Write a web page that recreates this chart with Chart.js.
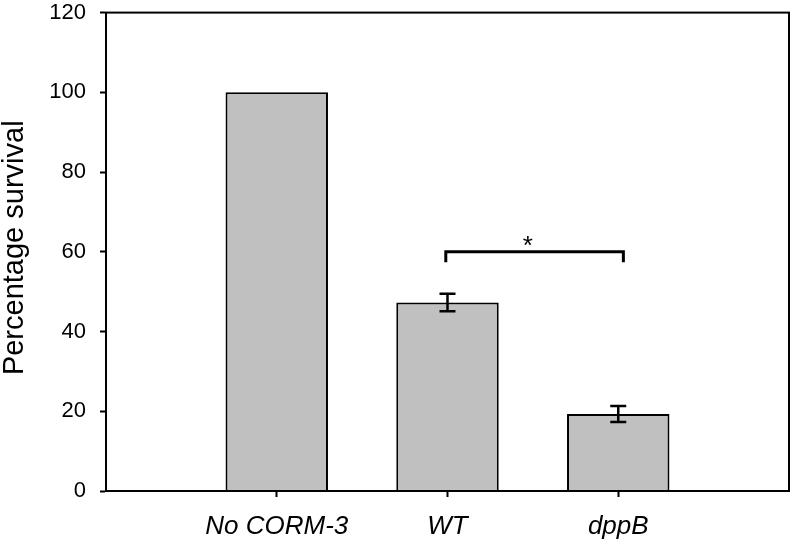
<!DOCTYPE html>
<html>
<head>
<meta charset="utf-8">
<script src="https://cdn.jsdelivr.net/npm/chart.js@4"></script>
<style>
  html, body { margin: 0; padding: 0; background: #fff; }
  #wrap { width: 792px; height: 542px; }
</style>
</head>
<body>
<div id="wrap"><canvas id="chart"></canvas></div>
<script>
// groups on the x axis (positions 1..3 on a 0..4 axis)
const groups = ["No CORM-3", "WT", "dppB"];
const groupPos = [1, 2, 3];
const survival = [100, 47.3, 19.3];
const survivalErr = [0, 2.2, 2.0];

// significance bracket between WT and dppB
const bracketFrom = 1.99;
const bracketTo = 3.03;
const bracketTop = 60;
const bracketFoot = 57.4;
const bracketMark = "*";
const bracketMarkX = 2.47;
const bracketMarkY = 62.6;

const yTicks = [0, 20, 40, 60, 80, 100, 120];

const extras = {
  id: 'extras',
  afterDatasetsDraw(chart) {
    const ctx = chart.ctx;
    const x = chart.scales.x, y = chart.scales.y;
    ctx.save();
    ctx.strokeStyle = '#000';
    ctx.lineWidth = 2.5;
    // error bars
    survival.forEach((v, i) => {
      const e = survivalErr[i];
      if (!e) return;
      const px = x.getPixelForValue(groupPos[i]);
      const hi = y.getPixelForValue(v + e), lo = y.getPixelForValue(v - e);
      ctx.beginPath();
      ctx.moveTo(px, hi); ctx.lineTo(px, lo);
      ctx.moveTo(px - 8, hi); ctx.lineTo(px + 8, hi);
      ctx.moveTo(px - 8, lo); ctx.lineTo(px + 8, lo);
      ctx.stroke();
    });
    // bracket
    const x1 = x.getPixelForValue(bracketFrom), x2 = x.getPixelForValue(bracketTo);
    const yt = y.getPixelForValue(bracketTop), yf = y.getPixelForValue(bracketFoot);
    ctx.lineWidth = 3;
    ctx.beginPath();
    ctx.moveTo(x1, yf); ctx.lineTo(x1, yt); ctx.lineTo(x2, yt); ctx.lineTo(x2, yf);
    ctx.stroke();
    ctx.fillStyle = '#000';
    ctx.font = '26px "Liberation Sans", Arial, sans-serif';
    ctx.textAlign = 'center';
    ctx.textBaseline = 'middle';
    ctx.fillText(bracketMark, x.getPixelForValue(bracketMarkX), y.getPixelForValue(bracketMarkY) + 5);
    // frame
    const a = chart.chartArea;
    ctx.lineWidth = 2;
    ctx.strokeRect(a.left, a.top, a.right - a.left, a.bottom - a.top);
    ctx.restore();
  }
};

new Chart(document.getElementById('chart'), {
  type: 'bar',
  data: {
    datasets: [{
      data: groupPos.map((p, i) => ({ x: p, y: survival[i] })),
      backgroundColor: '#c0c0c0',
      borderColor: '#000',
      borderWidth: 2,
      barPercentage: 0.75,
      categoryPercentage: 0.8
    }]
  },
  options: {
    responsive: true,
    maintainAspectRatio: false,
    animation: false,
    layout: { padding: { top: 12.6, right: 3, left: 0, bottom: 0 } },
    plugins: { legend: { display: false }, tooltip: { enabled: false } },
    scales: {
      x: {
        type: 'linear',
        offset: false,
        min: 0,
        max: 4,
        afterBuildTicks: s => { s.ticks = groupPos.map(v => ({ value: v })); },
        afterFit: s => { s.height = 51; },
        grid: { display: true, offset: false, drawOnChartArea: false, tickLength: 6, tickWidth: 2, tickColor: '#000' },
        border: { display: true, color: '#000', width: 2 },
        ticks: {
          padding: 14,
          color: '#000',
          maxRotation: 0,
          font: { family: '"Liberation Sans", Arial, sans-serif', size: 26, style: 'italic' },
          callback: v => groups[groupPos.indexOf(v)] ?? ''
        }
      },
      y: {
        min: 0,
        max: 120,
        afterBuildTicks: s => { s.ticks = yTicks.map(v => ({ value: v })); },
        // fixed axis width; drop the extra top padding the tick labels ask for
        afterFit: s => { s.width = 106; s.paddingTop = 0; },
        grid: { display: true, drawOnChartArea: false, tickLength: 6, tickWidth: 2, tickColor: '#000' },
        border: { display: true, color: '#000', width: 2 },
        ticks: {
          padding: 14,
          color: '#000',
          font: { family: '"Liberation Sans", Arial, sans-serif', size: 22 }
        },
        title: {
          display: true,
          text: ' Percentage survival',
          color: '#000',
          padding: { top: 0, bottom: 0 },
          font: { family: '"Liberation Sans", Arial, sans-serif', size: 29, lineHeight: 1 }
        }
      }
    }
  },
  plugins: [extras]
});
</script>
</body>
</html>
